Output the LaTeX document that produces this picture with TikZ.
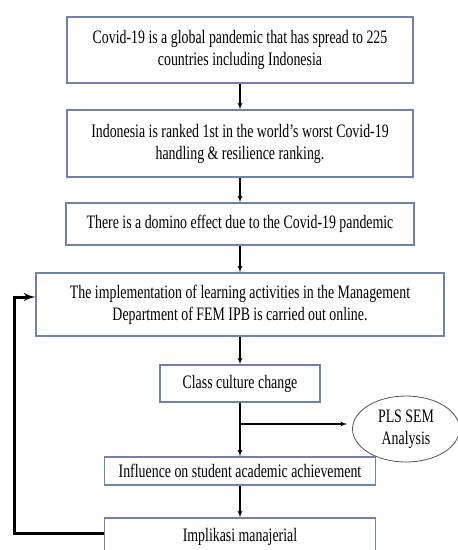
\documentclass[tikz,border=0pt]{standalone}
\usepackage{fontspec}
\setmainfont{Liberation Serif}[FakeStretch=0.73]
\usepackage{tikz}
\usetikzlibrary{shapes,arrows,positioning,calc}
\definecolor{boxedge}{RGB}{110,130,172}
\definecolor{ovaledge}{RGB}{85,85,85}
\tikzset{
block/.style = {draw=boxedge, line width=1.1pt, fill=white, rectangle, align = center, inner sep=2pt, font=\fontsize{19}{22}\selectfont},
oval/.style = {draw=ovaledge, line width=0.8pt, fill=white, ellipse, align = center, inner sep=0pt, font=\fontsize{19}{22}\selectfont},
link/.style = {->, line width=1.3pt},
loopback/.style = {->, line width=3pt},
}

\begin{document}
\begin{tikzpicture}[x=1pt, y=1pt, auto, >=latex']
    \useasboundingbox (0,0) rectangle (458,-550);
    \node [block, minimum width=346pt, minimum height=66pt] (spread) at (240,-50)
       {Covid-19 is a global pandemic that has spread to 225\\countries including Indonesia};
    \node [block, below of = spread, node distance = 93.5pt, minimum width=346pt, minimum height=67pt] (rank)
       {Indonesia is ranked 1st in the world's worst Covid-19\\handling \& resilience ranking.};
    \node [block, below of = rank, node distance = 80.5pt, minimum width=348pt, minimum height=42pt] (domino)
       {There is a domino effect due to the Covid-19 pandemic};
    \node [block, below of = domino, node distance = 80.5pt, minimum width=408pt, minimum height=63pt] (learn)
       {The implementation of learning activities in the Management\\Department of FEM IPB is carried out online.};
    \node [block, below of = learn, node distance = 79pt, minimum width=160pt, minimum height=37pt] (culture)
       {Class culture change};
    \node [block, below of = culture, node distance = 87.5pt, minimum width=271pt, minimum height=28pt] (achieve)
       {Influence on student academic achievement};
    \node [block, below of = achieve, node distance = 66pt, minimum width=271pt, minimum height=38pt] (impl)
       {Implikasi manajerial};

    \coordinate [below of = culture, node distance = 40.5pt] (fork);
    \node [oval, right of = fork, node distance = 166pt, yshift=-5pt, minimum width=107pt, minimum height=66pt] (pls)
       {PLS SEM\\Analysis};

    \draw [link] (spread) -- (rank);
    \draw [link] (rank) -- (domino);
    \draw [link] (domino) -- (learn);
    \draw [link] (learn) -- (culture);
    \draw [link] (culture) -- (achieve);
    \draw [link] (achieve) -- (impl);
    \draw [link, shorten >=5pt] (fork) -- (fork -| pls.west);

    % back to the learning box
    \draw [loopback] ([yshift=4pt]impl.west) -- ++(-89pt,0) |- ([yshift=7.5pt]learn.west);
\end{tikzpicture}
\end{document}
